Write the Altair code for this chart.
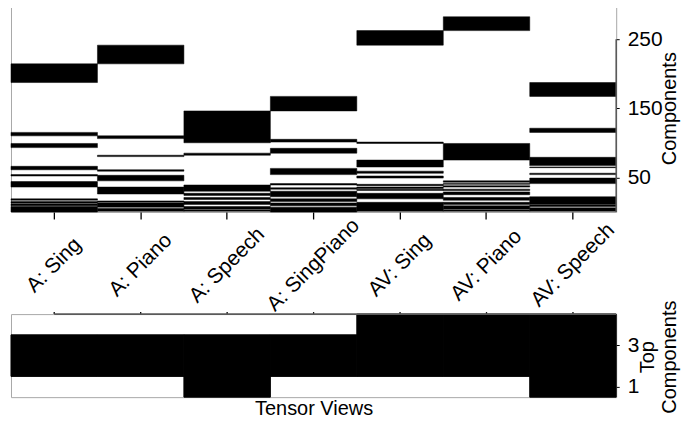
import altair as alt
import pandas as pd

# ---------------- data ----------------
views = ["A: Sing", "A: Piano", "A: Speech", "A: SingPiano",
         "AV: Sing", "AV: Piano", "AV: Speech"]

# black component runs (first, last component index) per tensor view
a_sing = [(1, 8), (10, 12), (14, 15), (18, 19), (37, 44), (53, 54),
          (62, 66), (94, 99), (111, 115), (188, 214)]
a_piano = [(2, 5), (8, 13), (15, 16), (27, 36), (46, 53), (60, 61),
           (81, 82), (107, 110), (215, 241)]
a_speech = [(2, 3), (5, 8), (12, 15), (19, 21), (25, 27), (31, 39),
            (83, 85), (101, 146)]
a_singpiano = [(1, 7), (10, 13), (16, 19), (23, 30), (34, 35), (40, 41),
               (55, 63), (86, 92), (102, 105), (147, 167)]
av_sing = [(2, 14), (20, 27), (32, 33), (35, 36), (39, 40), (50, 52),
           (57, 59), (66, 75), (100, 101), (242, 262)]
av_piano = [(2, 3), (5, 9), (12, 14), (18, 21), (26, 29), (32, 33),
            (37, 38), (41, 41), (44, 45), (76, 99), (263, 282)]
av_speech = [(2, 6), (9, 10), (12, 22), (42, 49), (55, 56), (65, 65),
             (68, 79), (116, 121), (168, 187)]
component_runs = [a_sing, a_piano, a_speech, a_singpiano,
                  av_sing, av_piano, av_speech]
n_components = 300

# top components (1..4) that are active per view
top_active = [[2, 3], [2, 3], [1, 2, 3], [2, 3],
              [2, 3, 4], [2, 3, 4], [1, 2, 3, 4]]
n_top = 4

top_ticks = [50, 150, 250]
bottom_ticks = [1, 3]

# ---------------- tables ----------------
top_rows = []
for v, runs in zip(views, component_runs):
    for lo, hi in runs:
        top_rows.append({"view": v, "lo": lo - 0.5, "hi": hi + 0.5})
df_top = pd.DataFrame(top_rows)

# merge consecutive active rows into runs so black blocks have no seams
bot_rows = []
for v, act in zip(views, top_active):
    act = sorted(act)
    start = prev = act[0]
    for r in act[1:] + [None]:
        if r is not None and r == prev + 1:
            prev = r
            continue
        bot_rows.append({"view": v, "lo": start - 0.5, "hi": prev + 0.5})
        if r is not None:
            start = prev = r
df_bot = pd.DataFrame(bot_rows)
df_views = pd.DataFrame({"view": views})

# ---------------- style ----------------
FONT = "Liberation Sans"
FS = 21
W = 607
H_TOP = 208.3
H_BOT = 83.3
AXIS_DARK = "#5a5a5a"
PAD = {"top": -5.3, "left": 2, "right": 4, "bottom": -1}

xscale = alt.Scale(domain=views, paddingInner=0, paddingOuter=0)

# ---------------- top panel ----------------
top_x_axis = alt.Axis(orient="bottom", title=None, labelAngle=315,
                      labelAlign="center", labelBaseline="middle",
                      labelPadding=46, tickSize=7, tickColor="black",
                      tickWidth=1.3, domain=False, labelOverlap=False,
                      labelFont=FONT, labelFontSize=FS, labelColor="black",
                      grid=False)
top_y_axis = alt.Axis(orient="right", values=top_ticks, title="Components",
                      titleAngle=270, titleBaseline="top", titleAlign="center",
                      titleX=43, titleY=H_TOP / 2,
                      titleFont=FONT, titleFontSize=20, titleFontWeight="normal",
                      titleColor="black", labelFont=FONT, labelFontSize=FS,
                      labelColor="black", tickSize=3, tickColor="black",
                      labelPadding=8, domain=False, grid=False)

top_rects = alt.Chart(df_top).mark_rect(
    color="black", stroke="black", strokeWidth=0.5).encode(
    x=alt.X("view:N", scale=xscale, sort=views, axis=top_x_axis),
    y=alt.Y("lo:Q", scale=alt.Scale(domain=[0.5, n_components + 0.5],
                                    nice=False, zero=False),
            axis=top_y_axis),
    y2="hi:Q",
)
top_domain = alt.Chart(pd.DataFrame({"a": [250], "b": [0.5]})).mark_rule(
    color=AXIS_DARK, strokeWidth=1.6).encode(
    x=alt.value(W), y="a:Q", y2="b:Q")

top = alt.layer(top_rects, top_domain).properties(width=W, height=H_TOP)

# ---------------- bottom panel ----------------
bot_x_axis = alt.Axis(orient="bottom", title="Tensor Views", labels=False,
                      ticks=False, domain=False, titlePadding=1,
                      titleFont=FONT, titleFontSize=20,
                      titleFontWeight="normal", titleColor="black",
                      minExtent=0, grid=False)
bot_y_axis = alt.Axis(orient="right", values=bottom_ticks,
                      title=["Top", "Components"], titleAngle=270,
                      titleBaseline="top", titleAlign="center",
                      titleX=21, titleY=H_BOT / 2 + 1,
                      titleFont=FONT,
                      titleFontSize=20, titleFontWeight="normal",
                      titleColor="black", titleLineHeight=22,
                      labelFont=FONT, labelFontSize=FS, labelColor="black",
                      tickSize=3, tickColor="black", labelPadding=8,
                      domain=False, minExtent=0, grid=False)

bot_rects = alt.Chart(df_bot).mark_rect(
    color="black", stroke="black", strokeWidth=1).encode(
    x=alt.X("view:N", scale=xscale, sort=views, axis=bot_x_axis),
    y=alt.Y("lo:Q", scale=alt.Scale(domain=[0.5, n_top + 0.5], nice=False,
                                    zero=False), axis=bot_y_axis),
    y2="hi:Q",
)
bot_ticks = alt.Chart(df_views).mark_rule(color="black", strokeWidth=1.3).encode(
    x=alt.X("view:N", scale=xscale, sort=views, axis=bot_x_axis),
    y=alt.value(-2), y2=alt.value(0))
bot_domain = alt.Chart(df_views.head(1)).mark_rule(
    color=AXIS_DARK, strokeWidth=1.6).encode(
    x=alt.X("view:N", scale=xscale, sort=views, axis=bot_x_axis),
    x2=alt.value(W), y=alt.value(0))

bottom = alt.layer(bot_rects, bot_ticks, bot_domain).properties(
    width=W, height=H_BOT)

chart = alt.vconcat(top, bottom, spacing=101.7, bounds="flush").properties(
    padding=PAD,
    background="white",
).configure_view(stroke="#a8a8a8", strokeWidth=1)

chart.save("out.html", embed_options={"renderer": "svg", "actions": False,
                                      "padding": PAD})
